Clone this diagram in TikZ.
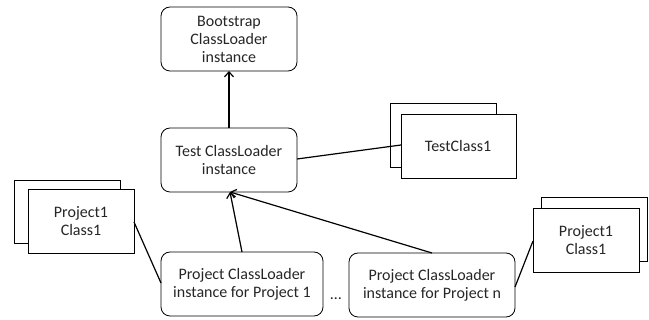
\documentclass[tikz,border=0pt]{standalone}
\usepackage{fontspec}
\setmainfont{Carlito}
\usetikzlibrary{arrows.meta}
\begin{document}
\begin{tikzpicture}[x=1pt,y=-1pt,
  loader/.style={draw,line width=0.8pt,rounded corners=9pt},
  cls/.style={draw,line width=0.8pt,fill=white},
  lbl/.style={align=center,font=\fontsize{16}{18}\selectfont,inner sep=0pt,text=black!85},
  conn/.style={line width=1.2pt},
  arr/.style={line width=1.2pt,-{Straight Barb[length=5pt,width=9pt,line width=1.2pt]}}]
\useasboundingbox (0,0) rectangle (649,320);
% loaders
\draw[loader] (161,7) rectangle (297,71);
\node[lbl] (boot) at (229,39) {Bootstrap\\ClassLoader\\instance};
\coordinate (bootS) at (229,71);
\draw[loader] (161,128) rectangle (297,192);
\node[lbl] (test) at (229,160) {Test ClassLoader\\instance};
\coordinate (testN) at (229,128);
\coordinate (testS) at (230,192);
\coordinate (testE) at (297,159);
\draw[loader] (161,252) rectangle (323,316);
\node[lbl] (p1) at (242,284) {Project ClassLoader\\instance for Project 1};
\coordinate (p1N) at (242,252);
\coordinate (p1W) at (161,283);
\draw[loader] (349,253) rectangle (515,317);
\node[lbl] (pn) at (432,285) {Project ClassLoader\\instance for Project n};
\coordinate (pnN) at (432,253);
\coordinate (pnE) at (515,287);
\node[lbl] (dots) at (336,299) {\dots};
% class stacks
\draw[cls] (390,103) rectangle (496,167);
\draw[cls] (401,114) rectangle (516,178);
\node[lbl] (tc) at (458,146) {TestClass1};
\coordinate (tcW) at (401,145);
\draw[cls] (14,180) rectangle (120,243);
\draw[cls] (28,189) rectangle (134,253);
\node[lbl] (c1) at (81,221) {Project1\\Class1};
\coordinate (c1E) at (134,222);
\draw[cls] (541,197) rectangle (647,261);
\draw[cls] (533,208) rectangle (639,272);
\node[lbl] (c2) at (586,240) {Project1\\Class1};
\coordinate (c2W) at (533,241);
% connectors
\draw[arr] (testN) -- (bootS);
\draw[arr] (p1N) -- (testS);
\draw[arr] (pnN) -- (testS);
\draw[conn] (testE) -- (tcW);
\draw[conn] (c1E) -- (p1W);
\draw[conn] (c2W) -- (pnE);
\end{tikzpicture}
\end{document}
